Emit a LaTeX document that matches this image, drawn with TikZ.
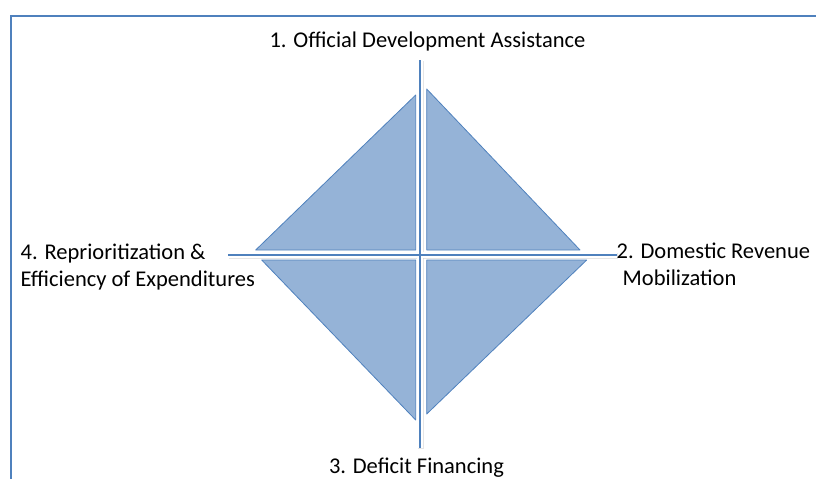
\documentclass[tikz,border=0pt]{standalone}
\usepackage{fontspec}
\setmainfont{Carlito}
\usetikzlibrary{positioning}

\definecolor{quadfill}{HTML}{95B3D7}
\definecolor{quadline}{HTML}{4F81BD}

\tikzset{
  quad/.style={fill=quadfill,draw=quadline,line width=0.8pt,line join=round},
  axisshade/.style={draw=black!25,line width=6.5pt,opacity=0.4},
  axisrim/.style={draw=white,line width=5.5pt},
  axis/.style={draw=quadline,line width=1.7pt},
  lbl/.style={font=\fontsize{22.5}{27}\selectfont,inner sep=0pt},
}

\begin{document}
\begin{tikzpicture}[x=1pt,y=-1pt]
  \useasboundingbox (0,0) rectangle (816,479);
  % frame
  \draw[quadline,line width=2pt] (816,16) -- (11,16) -- (11,479);

  % the four quadrants
  \draw[quad] (415.7,95) -- (255.7,250) -- (415.7,250) -- cycle;
  \draw[quad] (426.7,89) -- (580,250) -- (426.7,250) -- cycle;
  \draw[quad] (261.7,260) -- (415.7,260) -- (415.7,420) -- cycle;
  \draw[quad] (426.7,260) -- (586.7,260) -- (426.7,414) -- cycle;

  % axes
  \coordinate (north) at (420,60);
  \coordinate (south) at (420,448);
  \coordinate (west) at (228,255);
  \coordinate (east) at (617,255);
  \draw[axisshade] ([shift={(1,1)}]north) -- ([shift={(1,1)}]south);
  \draw[axisshade] ([shift={(1,1)}]west) -- ([shift={(1,1)}]east);
  \draw[axisrim] (north) -- (south);
  \draw[axisrim] (west) -- (east);
  \draw[axis] (north) -- (south);
  \draw[axis] (west) -- (east);

  % labels
  \node[lbl,anchor=base] (oda) at (427.5,47) {1. Official Development Assistance};
  \node[lbl,anchor=base west] (drm) at (616.5,258) {2. Domestic Revenue};
  \node[lbl,anchor=base west] (drm2) at (622.5,285) {Mobilization};
  \node[lbl,anchor=base] (dfin) at (416.5,473) {3. Deficit Financing};
  \node[lbl,anchor=base west] (reff) at (20.5,259) {4. Reprioritization \&};
  \node[lbl,anchor=base west] (reff2) at (20.5,286) {Efficiency of Expenditures};
\end{tikzpicture}
\end{document}
